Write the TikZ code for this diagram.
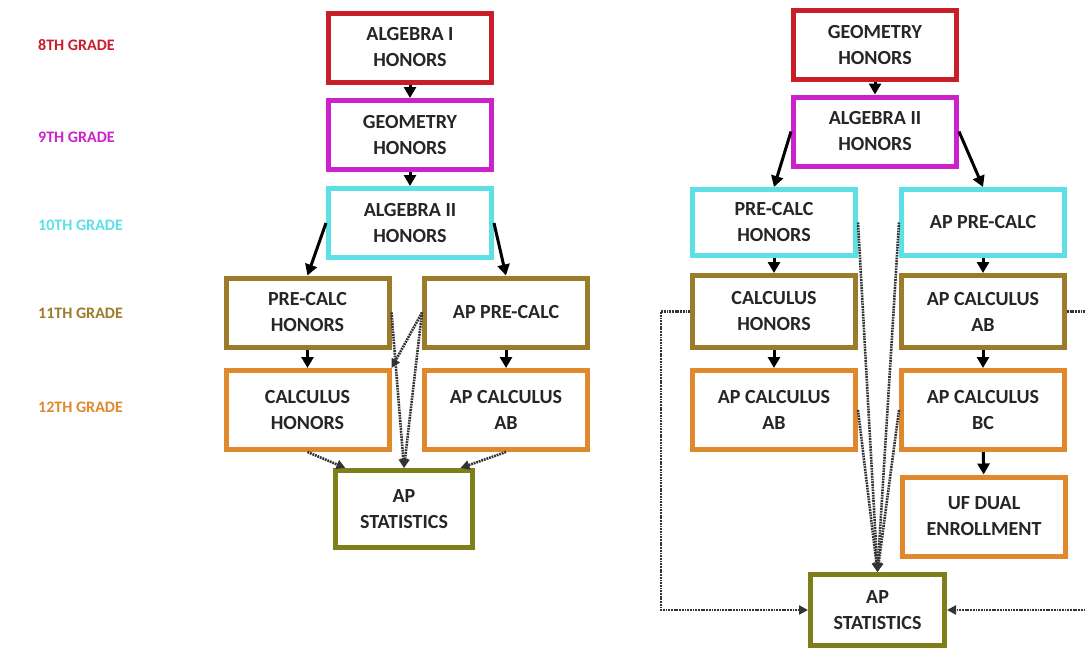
\documentclass[tikz,border=0pt]{standalone}
\usepackage{fontspec}
\setmainfont{Carlito}
\usetikzlibrary{arrows.meta,positioning,calc}

\definecolor{eighth}{HTML}{C81E2A}
\definecolor{ninth}{HTML}{CC22CC}
\definecolor{tenth}{HTML}{5CE0E6}
\definecolor{eleventh}{HTML}{9C7C2C}
\definecolor{twelfth}{HTML}{E0882E}
\definecolor{statcol}{HTML}{7F7F1A}
\definecolor{inktext}{HTML}{262626}

\tikzset{
  course/.style={draw,line width=5pt,fill=white,align=center,
    minimum width=163pt,minimum height=69pt,inner sep=2pt,
    text=inktext,font=\fontsize{20}{26}\selectfont\bfseries},
  tallcourse/.style={course,minimum height=79pt},
  grade/.style={anchor=west,inner sep=0pt,font=\fontsize{16}{18}\selectfont\bfseries},
  solidarrow/.style={line width=3pt,-{Triangle[length=11pt,width=12pt]}},
  dotarrow/.style={line width=2.6pt,dash pattern=on 1.8pt off 0.9pt,
    draw=black!80,-{Triangle[length=9pt,width=9pt]}}
}

\begin{document}
\begin{tikzpicture}[x=1pt,y=-1pt]
  \useasboundingbox (0,0) rectangle (1086,651);

  % ---- grade labels ----
  \foreach \n/\txt/\col/\y in {8/8TH GRADE/eighth/45,9/9TH GRADE/ninth/137,
      10/10TH GRADE/tenth/225,11/11TH GRADE/eleventh/313,12/12TH GRADE/twelfth/407} {
    \node[grade,text=\col] (grade\n) at (38,\y) {\txt};
  }

  % ---- first path (starting with Algebra I in 8th grade) ----
  \node[course,draw=eighth] (alga) at (410,47.5) {ALGEBRA I\\HONORS};
  \node[course,draw=ninth] (geoa) at (410,135) {GEOMETRY\\HONORS};
  \node[course,draw=tenth] (algiia) at (410,223) {ALGEBRA II\\HONORS};
  \node[course,draw=eleventh] (preca) at (307.5,312.5) {PRE-CALC\\HONORS};
  \node[course,draw=eleventh] (appreca) at (506,312.5) {AP PRE-CALC};
  \node[tallcourse,draw=twelfth] (calca) at (307.5,410) {CALCULUS\\HONORS};
  \node[tallcourse,draw=twelfth] (apaba) at (506,410) {AP CALCULUS\\AB};
  \node[course,draw=statcol,minimum width=137pt,minimum height=77pt] (stata) at (404,509) {AP\\STATISTICS};

  % solid arrows
  \draw[solidarrow] (alga) -- (geoa);
  \draw[solidarrow] (geoa) -- (algiia);
  \draw[solidarrow] (algiia.west) -- (preca.north);
  \draw[solidarrow] (algiia.east) -- (appreca.north);
  \draw[solidarrow] (preca) -- (calca);
  \draw[solidarrow] (appreca) -- (apaba);
  % dotted arrows (optional routes)
  \draw[dotarrow] (preca.east) -- (stata.north);
  \draw[dotarrow] (appreca.west) -- (calca.north east);
  \draw[dotarrow] (appreca.west) -- (stata.north);
  \draw[dotarrow] (calca.south) -- (stata.145);
  \draw[dotarrow] (apaba.south) -- (stata.36);

  % ---- second path (starting with Geometry in 8th grade) ----
  \node[course,draw=eighth] (geob) at (875,45) {GEOMETRY\\HONORS};
  \node[course,draw=ninth] (algiib) at (875,131.5) {ALGEBRA II\\HONORS};
  \node[course,draw=tenth,minimum height=66pt] (precb) at (774,222.5) {PRE-CALC\\HONORS};
  \node[course,draw=tenth,minimum height=66pt] (apprecb) at (983,222.5) {AP PRE-CALC};
  \node[course,draw=eleventh,minimum height=72pt] (calcb) at (774,311.5) {CALCULUS\\HONORS};
  \node[course,draw=eleventh,minimum height=72pt] (apabb) at (983,311.5) {AP CALCULUS\\AB};
  \node[tallcourse,draw=twelfth] (apabc) at (774,410) {AP CALCULUS\\AB};
  \node[tallcourse,draw=twelfth] (apbcb) at (983,410) {AP CALCULUS\\BC};
  \node[tallcourse,draw=twelfth] (ufb) at (984,516.5) {UF DUAL\\ENROLLMENT};
  \node[course,draw=statcol,minimum width=134pt,minimum height=71pt] (statb) at (877.5,610) {AP\\STATISTICS};

  % solid arrows
  \draw[solidarrow] (geob) -- (algiib);
  \draw[solidarrow] (algiib.west) -- (precb.north);
  \draw[solidarrow] (algiib.east) -- (apprecb.north);
  \draw[solidarrow] (precb) -- (calcb);
  \draw[solidarrow] (apprecb) -- (apabb);
  \draw[solidarrow] (calcb) -- (apabc);
  \draw[solidarrow] (apabb) -- (apbcb);
  \draw[solidarrow] (apbcb) -- (ufb);
  % dotted arrows into AP Statistics
  \draw[dotarrow] (precb.east) -- (statb.north);
  \draw[dotarrow] (apprecb.west) -- (statb.north);
  \draw[dotarrow] (apabc.east) -- (statb.north);
  \draw[dotarrow] (apbcb.west) -- (statb.north);
  \draw[dotarrow] (calcb.west) -- ++(-29,0) |- (statb.west);
  \draw[dotarrow] (apabb.east) -- ++(30,0) |- (statb.east);
\end{tikzpicture}
\end{document}
